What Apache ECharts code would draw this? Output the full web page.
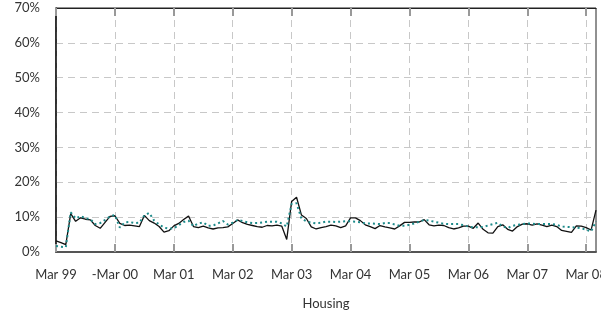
<!DOCTYPE html>
<html>
<head>
<meta charset="utf-8">
<script src="https://cdn.jsdelivr.net/npm/echarts@6/dist/echarts.min.js"></script>
<style>
  html, body { margin: 0; padding: 0; background: #fff; }
  #housing { width: 601px; height: 314px; }
</style>
</head>
<body>
<div id="housing"></div>
<script>
// Housing - monthly, Mar 99 to May 08
var monthNames = ['Jan','Feb','Mar','Apr','May','Jun','Jul','Aug','Sep','Oct','Nov','Dec'];
var months = [];
for (var k = 0; k < 111; k++) {
    var m = (2 + k) % 12;
    var y = (99 + Math.floor((2 + k) / 12)) % 100;
    months.push(monthNames[m] + ' ' + (y < 10 ? '0' + y : y));
}
var tickLabels = ['Mar 99','-Mar 00','Mar 01','Mar 02','Mar 03','Mar 04','Mar 05','Mar 06','Mar 07','Mar 08'];

// solid black series (%)
var solidLine = [3.2, 2.7, 2.1, 11.0, 8.8, 9.8, 9.4, 9.2, 7.6, 6.8,
    8.5, 10.2, 10.4, 8.2, 7.6, 7.7, 7.5, 7.3, 10.5, 9.0,
    8.3, 7.3, 5.7, 6.1, 7.5, 8.2, 9.3, 10.3, 7.3, 7.0,
    7.4, 6.9, 6.6, 6.9, 7.0, 7.2, 8.2, 9.2, 8.4, 7.9,
    7.6, 7.3, 7.1, 7.6, 7.5, 7.7, 7.4, 3.6, 14.5, 15.7,
    10.6, 9.6, 7.2, 6.6, 7.0, 7.3, 7.7, 7.5, 7.0, 7.5,
    9.8, 9.8, 9.0, 7.8, 7.3, 6.7, 7.6, 7.2, 6.9, 6.6,
    7.5, 8.5, 8.5, 8.6, 8.6, 9.3, 7.8, 7.5, 7.7, 7.6,
    7.0, 6.6, 6.9, 7.4, 7.4, 6.8, 8.3, 6.5, 5.5, 5.4,
    7.3, 7.8, 6.5, 6.0, 7.3, 8.0, 8.1, 7.7, 8.1, 7.7,
    7.3, 7.7, 7.3, 6.2, 5.9, 5.6, 7.5, 7.4, 7.0, 6.3,
    12.0];

// dotted teal series (%)
var dottedLine = [1.7, 1.5, 1.4, 11.4, 9.6, 10.3, 9.7, 9.4, 8.0, 8.3,
    9.2, 10.2, 10.6, 7.0, 8.5, 8.6, 8.3, 8.4, 10.5, 11.2,
    9.0, 7.9, 7.0, 6.7, 6.8, 7.7, 8.6, 9.0, 7.4, 8.2,
    8.5, 7.5, 7.6, 8.2, 8.9, 7.9, 8.4, 9.2, 8.9, 8.5,
    8.3, 8.3, 8.5, 8.7, 8.7, 8.7, 8.2, 7.3, 13.8, 14.0,
    9.6, 8.8, 8.4, 8.2, 8.4, 8.7, 8.7, 8.6, 8.7, 8.8,
    8.8, 8.7, 8.5, 8.2, 8.2, 8.1, 8.0, 8.3, 8.3, 7.9,
    7.5, 7.5, 7.8, 8.2, 8.7, 9.2, 9.0, 8.7, 8.4, 8.1,
    8.0, 8.0, 8.0, 7.7, 7.3, 7.1, 7.1, 7.2, 7.6, 8.0,
    8.4, 7.3, 6.9, 7.5, 7.8, 8.0, 8.2, 8.1, 8.0, 8.0,
    8.0, 8.0, 7.8, 7.3, 7.2, 7.1, 7.0, 6.8, 6.4, 5.9,
    8.8];

var housing = echarts.init(document.getElementById('housing'));
var textStyle = { fontFamily: 'Lato', fontSize: 13, color: '#333' };
var tickStyle = {
    show: true,
    inside: true,
    length: 8,
    interval: 11,
    lineStyle: { color: '#999', width: 2 }
};
var housing_option = {
    animation: false,
    grid: {
        left: 56,
        right: 5,
        top: 8,
        bottom: 62,
        outerBoundsMode: 'none',
        show: true,
        borderColor: '#222',
        borderWidth: 1
    },
    xAxis: [{
        type: 'category',
        boundaryGap: false,
        data: months,
        name: 'Housing',
        nameLocation: 'middle',
        nameGap: 45,
        nameTextStyle: textStyle,
        axisLine: { lineStyle: { color: '#555', width: 2 } },
        axisTick: tickStyle,
        axisLabel: {
            interval: 11,
            margin: 16,
            fontFamily: 'Lato',
            fontSize: 13,
            color: '#333',
            formatter: function (v, i) { return tickLabels[Math.round(i / 12)]; }
        },
        splitLine: {
            show: true,
            interval: 11,
            lineStyle: { color: '#c8c8c8', type: [7, 5] }
        }
    }, {
        type: 'category',
        position: 'top',
        boundaryGap: false,
        data: months,
        axisLine: { lineStyle: { color: '#222', width: 1 } },
        axisTick: tickStyle,
        axisLabel: { show: false },
        splitLine: { show: false }
    }],
    yAxis: {
        type: 'value',
        min: 0,
        max: 70,
        interval: 10,
        axisLine: { show: true, lineStyle: { color: '#111', width: 1.5 } },
        axisTick: { show: false },
        axisLabel: {
            margin: 16,
            padding: [6, 0, 0, 0],
            fontFamily: 'Lato',
            fontSize: 13,
            color: '#333',
            formatter: '{value}%'
        },
        splitLine: { lineStyle: { color: '#c8c8c8', type: [7, 5] } }
    },
    series: [
        {
            name: 'solid',
            type: 'line',
            data: solidLine,
            symbol: 'none',
            lineStyle: { color: '#111', width: 1.3 }
        },
        {
            name: 'dotted',
            type: 'line',
            data: dottedLine,
            symbol: 'none',
            lineStyle: { color: '#1d8a8a', width: 2, type: [2, 3] }
        }
    ]
};
housing.setOption(housing_option);
</script>
</body>
</html>
